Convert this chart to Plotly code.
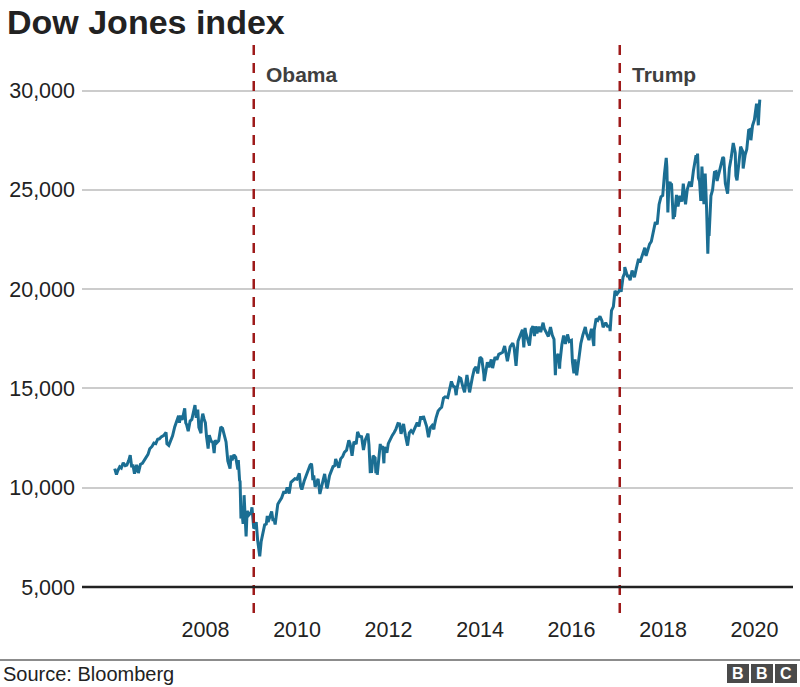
import plotly.graph_objects as go

# ---- Data: Dow Jones Industrial Average (approximate closes) ----
dates = [
    # 2006
    "2006-01-06","2006-01-20","2006-01-31","2006-02-15","2006-02-28","2006-03-15","2006-03-31",
    "2006-04-13","2006-04-28","2006-05-10","2006-05-22","2006-05-31","2006-06-13","2006-06-30",
    "2006-07-14","2006-07-31","2006-08-15","2006-08-31","2006-09-15","2006-09-29","2006-10-13",
    "2006-10-31","2006-11-15","2006-11-30","2006-12-15","2006-12-29",
    # 2007
    "2007-01-12","2007-01-31","2007-02-20","2007-02-27","2007-03-14","2007-03-30","2007-04-13",
    "2007-04-30","2007-05-15","2007-05-31","2007-06-07","2007-06-15","2007-06-29","2007-07-19",
    "2007-07-27","2007-08-03","2007-08-16","2007-08-31","2007-09-14","2007-09-28","2007-10-09",
    "2007-10-19","2007-10-31","2007-11-09","2007-11-26","2007-11-30","2007-12-10","2007-12-21",
    "2007-12-31",
    # 2008
    "2008-01-09","2008-01-22","2008-01-31","2008-02-15","2008-02-29","2008-03-10","2008-03-18",
    "2008-03-31","2008-04-15","2008-04-30","2008-05-02","2008-05-16","2008-05-30","2008-06-13",
    "2008-06-27","2008-07-15","2008-07-23","2008-07-31","2008-08-15","2008-08-29","2008-09-15",
    "2008-09-19","2008-09-29","2008-10-03","2008-10-10","2008-10-17","2008-10-27","2008-10-31",
    "2008-11-04","2008-11-20","2008-11-28","2008-12-12","2008-12-31",
    # 2009
    "2009-01-06","2009-01-20","2009-01-30","2009-02-09","2009-02-20","2009-02-27","2009-03-09",
    "2009-03-20","2009-03-31","2009-04-17","2009-04-30","2009-05-08","2009-05-15","2009-05-29",
    "2009-06-12","2009-06-23","2009-06-30","2009-07-10","2009-07-24","2009-07-31","2009-08-14",
    "2009-08-31","2009-09-18","2009-09-30","2009-10-14","2009-10-30","2009-11-13","2009-11-30",
    "2009-12-15","2009-12-31",
    # 2010
    "2010-01-19","2010-01-29","2010-02-08","2010-02-26","2010-03-15","2010-03-31","2010-04-15",
    "2010-04-26","2010-04-30","2010-05-07","2010-05-14","2010-05-25","2010-05-31","2010-06-18",
    "2010-07-02","2010-07-16","2010-07-30","2010-08-09","2010-08-26","2010-08-31","2010-09-17",
    "2010-09-30","2010-10-15","2010-10-29","2010-11-05","2010-11-30","2010-12-15","2010-12-31",
    # 2011
    "2011-01-14","2011-01-31","2011-02-18","2011-02-28","2011-03-16","2011-03-31","2011-04-18",
    "2011-04-29","2011-05-13","2011-05-31","2011-06-15","2011-06-30","2011-07-21","2011-07-29",
    "2011-08-08","2011-08-19","2011-08-31","2011-09-16","2011-09-22","2011-09-30","2011-10-03",
    "2011-10-27","2011-10-31","2011-11-15","2011-11-25","2011-11-30","2011-12-19","2011-12-30",
    # 2012
    "2012-01-13","2012-01-31","2012-02-15","2012-02-29","2012-03-16","2012-03-30","2012-04-10",
    "2012-04-30","2012-05-15","2012-06-01","2012-06-15","2012-06-29","2012-07-13","2012-07-31",
    "2012-08-17","2012-08-31","2012-09-14","2012-09-28","2012-10-05","2012-10-31","2012-11-15",
    "2012-11-30","2012-12-14","2012-12-28","2012-12-31",
    # 2013
    "2013-01-15","2013-01-31","2013-02-15","2013-02-28","2013-03-15","2013-03-28","2013-04-18",
    "2013-04-30","2013-05-17","2013-05-31","2013-06-14","2013-06-24","2013-06-28","2013-07-19",
    "2013-07-31","2013-08-15","2013-08-30","2013-09-18","2013-09-30","2013-10-09","2013-10-31",
    "2013-11-15","2013-11-29","2013-12-13","2013-12-31",
    # 2014
    "2014-01-15","2014-01-31","2014-02-03","2014-02-28","2014-03-14","2014-03-31","2014-04-11",
    "2014-04-30","2014-05-15","2014-05-30","2014-06-13","2014-06-30","2014-07-16","2014-07-31",
    "2014-08-07","2014-08-29","2014-09-19","2014-09-30","2014-10-15","2014-10-31","2014-11-14",
    "2014-11-28","2014-12-05","2014-12-16","2014-12-26","2014-12-31",
    # 2015
    "2015-01-16","2015-01-30","2015-02-13","2015-02-27","2015-03-11","2015-03-20","2015-03-31",
    "2015-04-15","2015-04-30","2015-05-19","2015-05-29","2015-06-15","2015-06-30","2015-07-17",
    "2015-07-31","2015-08-14","2015-08-25","2015-08-31","2015-09-16","2015-09-28","2015-09-30",
    "2015-10-16","2015-10-30","2015-11-13","2015-11-30","2015-12-14","2015-12-31",
    # 2016
    "2016-01-08","2016-01-20","2016-01-29","2016-02-11","2016-02-29","2016-03-15","2016-03-31",
    "2016-04-20","2016-04-29","2016-05-19","2016-05-31","2016-06-08","2016-06-27","2016-06-30",
    "2016-07-15","2016-07-29","2016-08-15","2016-08-31","2016-09-09","2016-09-30","2016-10-14",
    "2016-10-31","2016-11-04","2016-11-15","2016-11-30","2016-12-13","2016-12-30",
    # 2017
    "2017-01-13","2017-01-25","2017-01-31","2017-02-15","2017-02-28","2017-03-01","2017-03-22",
    "2017-03-31","2017-04-13","2017-04-28","2017-05-17","2017-05-31","2017-06-19","2017-06-30",
    "2017-07-14","2017-07-31","2017-08-08","2017-08-18","2017-08-31","2017-09-15","2017-09-29",
    "2017-10-13","2017-10-31","2017-11-15","2017-11-30","2017-12-15","2017-12-29",
    # 2018
    "2018-01-12","2018-01-26","2018-01-31","2018-02-08","2018-02-16","2018-02-27","2018-02-28",
    "2018-03-09","2018-03-23","2018-03-29","2018-04-02","2018-04-18","2018-04-30","2018-05-15",
    "2018-05-31","2018-06-11","2018-06-29","2018-07-13","2018-07-31","2018-08-15","2018-08-31",
    "2018-09-21","2018-09-28","2018-10-03","2018-10-10","2018-10-19","2018-10-29","2018-10-31",
    "2018-11-07","2018-11-23","2018-11-30","2018-12-03","2018-12-14","2018-12-24","2018-12-31",
    # 2019
    "2019-01-03","2019-01-18","2019-01-31","2019-02-15","2019-02-28","2019-03-08","2019-03-20",
    "2019-03-29","2019-04-12","2019-04-23","2019-04-30","2019-05-13","2019-05-31","2019-06-14",
    "2019-06-28","2019-07-15","2019-07-31","2019-08-05","2019-08-14","2019-08-30","2019-09-12",
    "2019-09-30","2019-10-02","2019-10-18","2019-10-31","2019-11-15","2019-11-29","2019-12-03",
    "2019-12-16","2019-12-31",
    # 2020
    "2020-01-17","2020-01-24","2020-01-31","2020-02-07","2020-02-12",
]

closes = [
    # 2006
    10960, 10667, 10865, 11058, 10993, 11254, 11109,
    11138, 11367, 11642, 11033, 11168, 10706, 11150,
    10739, 11186, 11230, 11381, 11560, 11679, 11960,
    12081, 12251, 12221, 12445, 12463,
    # 2007
    12556, 12622, 12786, 12216, 12133, 12354, 12612,
    13063, 13383, 13628, 13266, 13639, 13409, 14000,
    13265, 13182, 12845, 13358, 13442, 13896, 14164,
    13522, 13930, 13043, 12743, 13372, 13727, 13450,
    13265,
    # 2008
    12590, 11971, 12650, 12348, 12266, 11740, 12392,
    12263, 12362, 12820, 13058, 12986, 12638, 12307,
    11346, 10963, 11632, 11378, 11659, 11544, 10917,
    11388, 10365, 10325, 8451, 8852, 8176, 9325,
    9625, 7552, 8829, 8629, 8776,
    # 2009
    9015, 7949, 8001, 8270, 7366, 7063, 6547,
    7278, 7609, 8131, 8168, 8575, 8268, 8500,
    8799, 8323, 8447, 8147, 9093, 9172, 9321,
    9496, 9820, 9712, 10015, 9713, 10270, 10345,
    10452, 10428,
    # 2010
    10725, 10067, 9908, 10325, 10642, 10857, 11144,
    11205, 11009, 10380, 10620, 10043, 10137, 10450,
    9686, 10097, 10466, 10698, 9986, 10015, 10607,
    10788, 11063, 11118, 11444, 11006, 11457, 11578,
    # 2011
    11787, 11892, 12391, 12226, 11613, 12320, 12201,
    12811, 12596, 12570, 11898, 12414, 12724, 12143,
    10810, 10817, 11614, 11509, 10733, 10913, 10655,
    12209, 11955, 12096, 11231, 12046, 11766, 12218,
    # 2012
    12422, 12633, 12781, 12952, 13233, 13212, 12716,
    13214, 12632, 12119, 12767, 12880, 12777, 13009,
    13275, 13091, 13594, 13437, 13610, 13096, 12543,
    13026, 13135, 12938, 13104,
    # 2013
    13535, 13861, 13982, 14054, 14514, 14579, 14537,
    14840, 15354, 15116, 15070, 14660, 14910, 15544,
    15500, 15113, 14810, 15677, 15130, 14802, 15546,
    15962, 16086, 15755, 16577,
    # 2014
    16482, 15699, 15373, 16322, 16066, 16458, 16027,
    16581, 16447, 16717, 16776, 16827, 17138, 16563,
    16368, 17098, 17280, 17043, 16142, 17391, 17635,
    17828, 17958, 17068, 18053, 17823,
    # 2015
    17512, 17165, 17973, 18133, 17635, 18128, 17776,
    18113, 17841, 18312, 18011, 17791, 17620, 18086,
    17690, 17477, 15666, 16528, 16740, 16001, 16285,
    17216, 17664, 17245, 17720, 17368, 17425,
    # 2016
    16346, 15766, 16466, 15660, 16517, 17251, 17685,
    18096, 17774, 17436, 17787, 18005, 17140, 17930,
    18517, 18432, 18636, 18401, 18085, 18308, 18138,
    18142, 17888, 18924, 19124, 19911, 19763,
    # 2017
    19886, 20069, 19864, 20611, 20812, 21115, 20661,
    20663, 20453, 20940, 20607, 21009, 21528, 21350,
    21638, 21891, 22085, 21675, 21948, 22268, 22405,
    22871, 23377, 23272, 24272, 24651, 24719,
    # 2018
    25803, 26617, 26149, 23860, 25219, 25410, 25029,
    25336, 23533, 24103, 23644, 24748, 24163, 24706,
    24416, 25322, 24271, 25019, 25415, 25162, 25965,
    26743, 26458, 26828, 25599, 25444, 24443, 25116,
    26180, 24286, 25538, 25826, 24101, 21792, 23327,
    # 2019
    22686, 24706, 24999, 25883, 25916, 25450, 25746,
    25929, 26412, 26656, 26593, 25324, 24815, 26090,
    26600, 27360, 26864, 25718, 25479, 26403, 27182,
    26917, 26079, 26770, 27046, 28005, 28051, 27503,
    28236, 28538,
    # 2020
    29348, 28990, 28256, 29102, 29551,
]

presidents = ["Obama", "Trump"]
inaugurations = ["2009-01-20", "2017-01-20"]

x_tick_vals = ["2008-01-01", "2010-01-01", "2012-01-01", "2014-01-01",
               "2016-01-01", "2018-01-01", "2020-01-01"]
x_tick_text = ["2008", "2010", "2012", "2014", "2016", "2018", "2020"]
y_tick_vals = [5000, 10000, 15000, 20000, 25000, 30000]
y_tick_text = ["5,000", "10,000", "15,000", "20,000", "25,000", "30,000"]

# ---- layout helpers (pixel geometry of the 800x687 canvas) ----
W, H = 800, 687
ML, MR, MT, MB = 82, 7, 45, 100
PW, PH = W - ML - MR, H - MT - MB


def px_x(p):
    return (p - ML) / PW


def px_y(p):
    return (H - MB - p) / PH


FONT = "Liberation Sans, Arial, Helvetica, sans-serif"
LINE_COLOR = "#1b6e93"
RED = "#9e1a1a"

fig = go.Figure()
fig.add_trace(go.Scatter(
    x=dates, y=closes, mode="lines",
    line=dict(color=LINE_COLOR, width=3),
    hoverinfo="x+y", showlegend=False,
))

shapes = []
annotations = []

# inauguration lines + labels
for name, d in zip(presidents, inaugurations):
    shapes.append(dict(type="line", xref="x", yref="paper", x0=d, x1=d,
                       y0=px_y(613), y1=1.0,
                       line=dict(color=RED, width=2.5, dash="10px,8px")))
    annotations.append(dict(xref="x", yref="paper", x=d, y=px_y(88),
                            xshift=10, xanchor="left", yanchor="bottom",
                            text="<b>%s</b>" % name, showarrow=False,
                            font=dict(family=FONT, size=21, color="#3f3f3f")))

# baseline at 5,000 (paper-referenced so it is not clipped at the plot edge)
shapes.append(dict(type="line", xref="paper", yref="paper", x0=0, x1=1, y0=0, y1=0,
                   line=dict(color="#222222", width=2.6)))

# footer rule
shapes.append(dict(type="line", xref="paper", yref="paper", x0=px_x(0), x1=px_x(800),
                   y0=px_y(660), y1=px_y(660),
                   line=dict(color="#8c8c8c", width=2)))

# BBC blocks
for i, letter in enumerate(["B", "B", "C"]):
    x0 = 727 + i * 24
    shapes.append(dict(type="rect", xref="paper", yref="paper",
                       x0=px_x(x0), x1=px_x(x0 + 22), y0=px_y(683), y1=px_y(664),
                       fillcolor="#4a4a4a", line=dict(width=0)))
    annotations.append(dict(xref="paper", yref="paper", x=px_x(x0 + 11), y=px_y(673.5),
                            xanchor="center", yanchor="middle", text="<b>%s</b>" % letter,
                            showarrow=False,
                            font=dict(family=FONT, size=16, color="white")))

# title
annotations.append(dict(xref="paper", yref="paper", x=px_x(5), y=px_y(1),
                        xanchor="left", yanchor="top", text="<b>Dow Jones index</b>",
                        showarrow=False,
                        font=dict(family=FONT, size=34, color="#222222")))
# source
annotations.append(dict(xref="paper", yref="paper", x=px_x(1), y=px_y(687),
                        xanchor="left", yanchor="bottom", text="Source: Bloomberg",
                        showarrow=False,
                        font=dict(family=FONT, size=20, color="#222222")))

fig.update_layout(
    width=W, height=H,
    margin=dict(l=ML, r=MR, t=MT, b=MB, pad=0),
    paper_bgcolor="white", plot_bgcolor="white",
    font=dict(family=FONT, color="#222222"),
    shapes=shapes, annotations=annotations,
    showlegend=False,
)
fig.update_xaxes(
    type="date", range=["2005-04-20", "2020-11-03"],
    tickmode="array", tickvals=x_tick_vals, ticktext=x_tick_text,
    showgrid=False, zeroline=False, showline=False, ticks="",
    tickfont=dict(family=FONT, size=21.5, color="#222222"),
    ticklabelstandoff=27,
)
fig.update_yaxes(
    range=[5000, 32300],
    tickmode="array", tickvals=y_tick_vals, ticktext=y_tick_text,
    showgrid=True, gridcolor="#cccccc", gridwidth=1.5,
    zeroline=False, showline=False, ticks="",
    tickfont=dict(family=FONT, size=21.5, color="#222222"),
    ticklabelstandoff=6,
)

fig.write_html("out.html", config={"displayModeBar": False})
